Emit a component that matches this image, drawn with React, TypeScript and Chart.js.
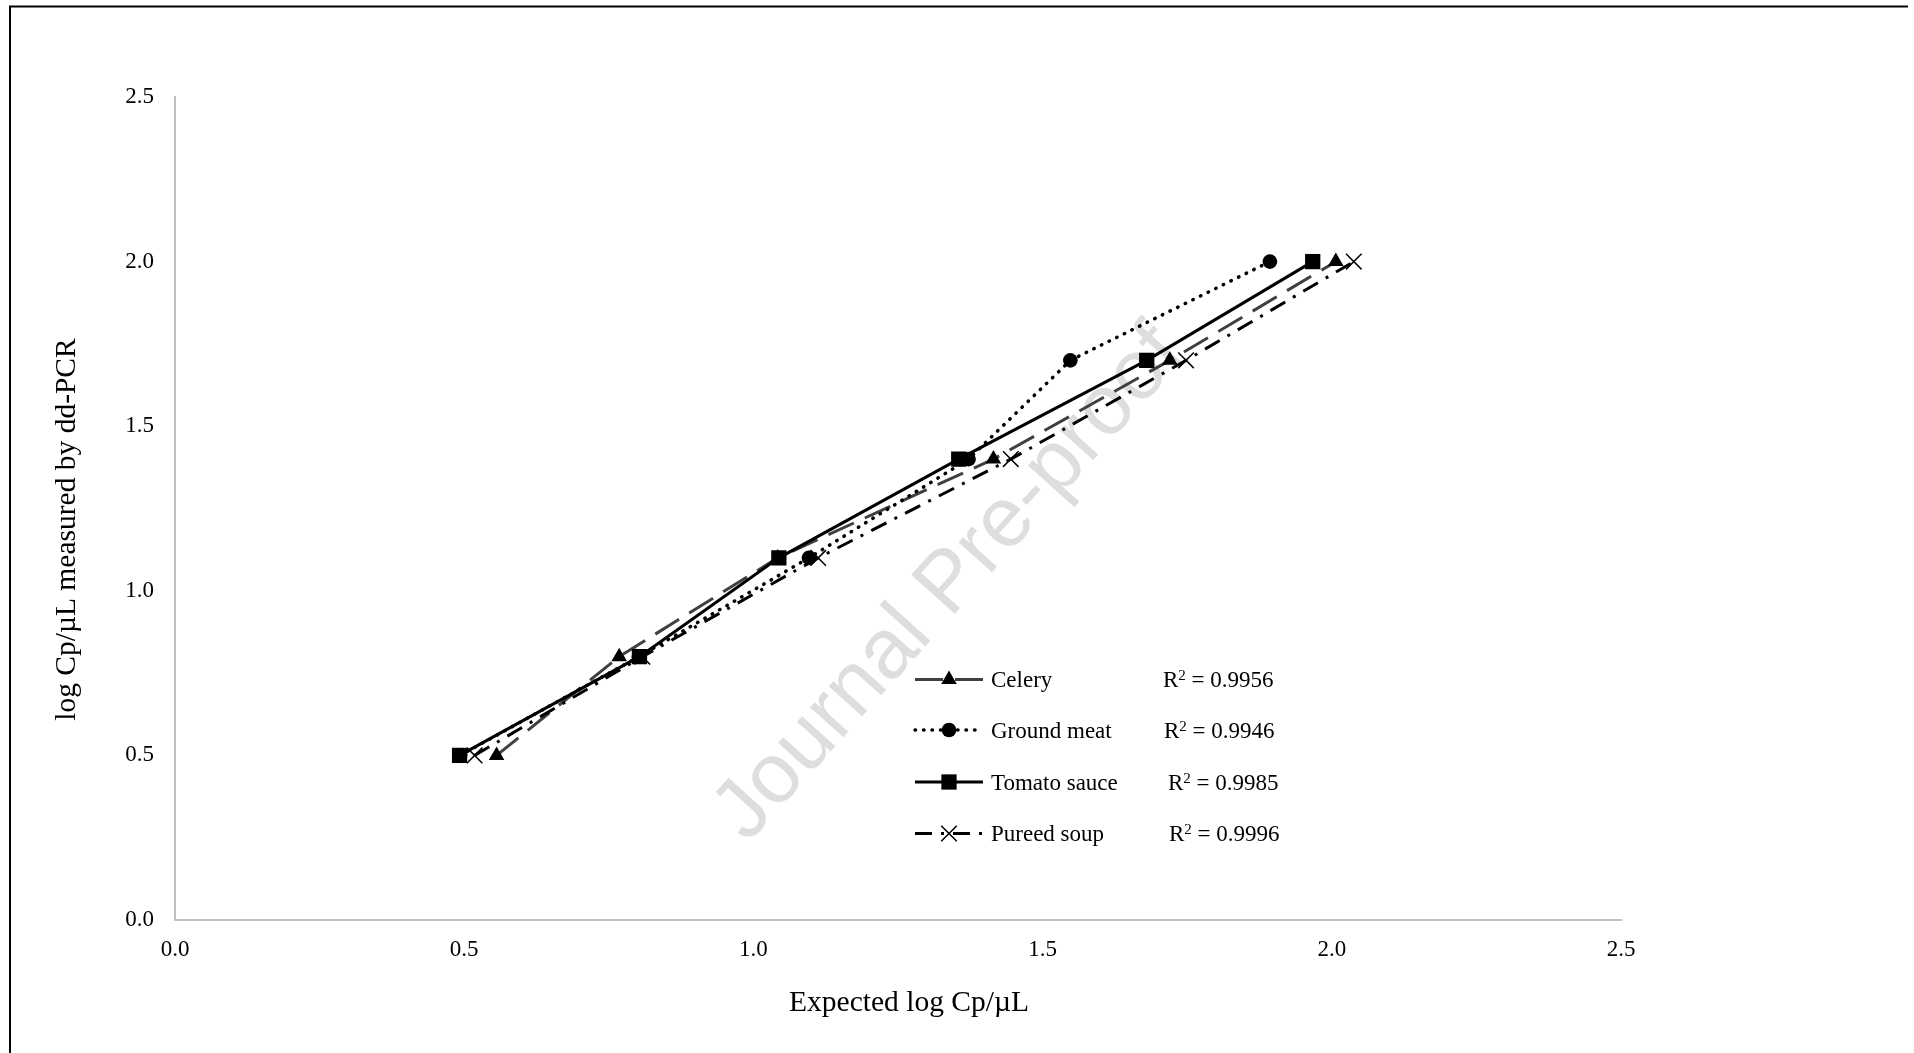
import React, { useEffect, useRef } from 'react';
import { Chart, registerables } from 'chart.js';

Chart.register(...registerables);

// ---- Data ----
const yLevels = [0.5, 0.8, 1.1, 1.4, 1.7, 2.0];
const celeryX = [0.556, 0.768, 1.042, 1.415, 1.72, 2.007];
const groundMeatX = [0.493, 0.802, 1.096, 1.372, 1.548, 1.893];
const tomatoSauceX = [0.492, 0.803, 1.044, 1.355, 1.68, 1.967];
const pureedSoupX = [0.518, 0.808, 1.112, 1.445, 1.748, 2.038];
const seriesNames = ['Celery', 'Ground meat', 'Tomato sauce', 'Pureed soup'];
const rSquaredValues = ['0.9956', '0.9946', '0.9985', '0.9996'];
const axisMin = 0;
const axisMax = 2.5;
const axisStep = 0.5;
const xAxisTitle = 'Expected log Cp/µL';
const yAxisTitle = 'log Cp/µL measured by dd-PCR';
const watermarkText = 'Journal Pre-proof';

const SERIF = "'Liberation Serif', 'Times New Roman', serif";
const SANS = "'Liberation Sans', Arial, sans-serif";

const toPoints = (xs: number[]) => xs.map((x, i) => ({ x, y: yLevels[i] }));

function drawMarker(ctx: CanvasRenderingContext2D, style: string, x: number, y: number, r: number, color: string, bw: number) {
  ctx.save();
  ctx.setLineDash([]);
  ctx.fillStyle = color;
  ctx.strokeStyle = color;
  ctx.lineWidth = bw;
  ctx.beginPath();
  if (style === 'triangle') {
    ctx.moveTo(x, y - r);
    ctx.lineTo(x + (r * Math.sqrt(3)) / 2, y + r / 2);
    ctx.lineTo(x - (r * Math.sqrt(3)) / 2, y + r / 2);
    ctx.closePath();
    ctx.fill();
  } else if (style === 'circle') {
    ctx.arc(x, y, r, 0, Math.PI * 2);
    ctx.fill();
  } else if (style === 'rect') {
    const s = r * Math.SQRT1_2;
    ctx.rect(x - s, y - s, 2 * s, 2 * s);
    ctx.fill();
  } else if (style === 'crossRot') {
    const s = r * Math.SQRT1_2;
    ctx.moveTo(x - s, y - s);
    ctx.lineTo(x + s, y + s);
    ctx.moveTo(x - s, y + s);
    ctx.lineTo(x + s, y - s);
    ctx.stroke();
  }
  ctx.restore();
}

const overlayPlugin = {
  id: 'overlayPlugin',
  beforeDatasetsDraw(chart: any) {
    const ctx: CanvasRenderingContext2D = chart.ctx;
    ctx.save();
    ctx.translate(950, 584);
    ctx.rotate((-48 * Math.PI) / 180);
    ctx.font = `85px ${SANS}`;
    ctx.fillStyle = '#dedede';
    ctx.textAlign = 'center';
    ctx.textBaseline = 'middle';
    ctx.fillText(watermarkText, 0, 0);
    ctx.restore();
  },
  afterDraw(chart: any) {
    const ctx: CanvasRenderingContext2D = chart.ctx;
    const area = chart.chartArea;
    // frame (left and top edges)
    ctx.save();
    ctx.strokeStyle = '#000';
    ctx.lineWidth = 2;
    ctx.beginPath();
    ctx.moveTo(10, 1053);
    ctx.lineTo(10, 6.5);
    ctx.lineTo(1908, 6.5);
    ctx.stroke();
    ctx.restore();

    // axis titles
    ctx.save();
    ctx.fillStyle = '#000';
    ctx.font = `29.5px ${SERIF}`;
    ctx.textAlign = 'center';
    ctx.textBaseline = 'middle';
    ctx.fillText(xAxisTitle, (area.left + area.right) / 2 + 11, 1003);
    ctx.translate(67, (area.top + area.bottom) / 2 + 21);
    ctx.rotate(-Math.PI / 2);
    ctx.fillText(yAxisTitle, 0, 0);
    ctx.restore();

    // legend
    const rows = [679.5, 730, 782, 833.5];
    const r2X = [1163, 1164, 1168, 1169];
    const x0 = 915;
    const x1 = 983;
    const mx = 949;
    const tx = 991;
    chart.data.datasets.forEach((ds: any, i: number) => {
      const y = rows[i];
      ctx.save();
      ctx.strokeStyle = ds.borderColor;
      ctx.lineWidth = ds.borderWidth;
      ctx.lineCap = ds.borderCapStyle || 'butt';
      ctx.setLineDash(ds.borderDash || []);
      ctx.beginPath();
      ctx.moveTo(x0, y);
      ctx.lineTo(x1, y);
      ctx.stroke();
      ctx.restore();
      drawMarker(ctx, ds.pointStyle, mx, y, ds.pointRadius, ds.pointBackgroundColor, ds.pointBorderWidth || 1.5);

      ctx.save();
      ctx.fillStyle = '#000';
      ctx.textAlign = 'left';
      ctx.textBaseline = 'alphabetic';
      ctx.font = `23px ${SERIF}`;
      ctx.fillText(ds.label, tx, y + 7.5);
      let rx = r2X[i];
      ctx.fillText('R', rx, y + 7.5);
      rx += ctx.measureText('R').width;
      ctx.font = `15px ${SERIF}`;
      ctx.fillText('2', rx, y + 0.5);
      rx += ctx.measureText('2').width;
      ctx.font = `23px ${SERIF}`;
      ctx.fillText(' = ' + rSquaredValues[i], rx, y + 7.5);
      ctx.restore();
    });
  },
};

export default function App() {
  const canvasRef = useRef<HTMLCanvasElement>(null);

  useEffect(() => {
    const canvas = canvasRef.current;
    if (!canvas) return;
    const tickFont = { family: SERIF, size: 23 };
    const chart = new Chart(canvas, {
      type: 'scatter',
      data: {
        datasets: [
          {
            label: seriesNames[0],
            data: toPoints(celeryX),
            showLine: true,
            borderColor: '#404040',
            borderWidth: 3,
            borderDash: [28, 12],
            pointStyle: 'triangle',
            pointRadius: 9,
            pointHoverRadius: 9,
            pointBackgroundColor: '#000',
            pointBorderColor: '#000',
            pointBorderWidth: 0,
            order: 4,
          },
          {
            label: seriesNames[1],
            data: toPoints(groundMeatX),
            showLine: true,
            borderColor: '#000',
            borderWidth: 3.5,
            borderDash: [0.5, 8],
            borderCapStyle: 'round',
            pointStyle: 'circle',
            pointRadius: 7.3,
            pointHoverRadius: 7.3,
            pointBackgroundColor: '#000',
            pointBorderColor: '#000',
            pointBorderWidth: 0,
            order: 3,
          },
          {
            label: seriesNames[2],
            data: toPoints(tomatoSauceX),
            showLine: true,
            borderColor: '#000',
            borderWidth: 3,
            pointStyle: 'rect',
            pointRadius: 10.8,
            pointHoverRadius: 10.8,
            pointBackgroundColor: '#000',
            pointBorderColor: '#000',
            pointBorderWidth: 0,
            order: 2,
          },
          {
            label: seriesNames[3],
            data: toPoints(pureedSoupX),
            showLine: true,
            borderColor: '#000',
            borderWidth: 3,
            borderDash: [17, 9, 3, 9],
            pointStyle: 'crossRot',
            pointRadius: 11,
            pointHoverRadius: 11,
            pointBackgroundColor: '#000',
            pointBorderColor: '#000',
            pointBorderWidth: 1.5,
            order: 1,
          },
        ] as any,
      },
      options: {
        responsive: false,
        animation: false,
        devicePixelRatio: 1,
        events: [],
        layout: { padding: { left: 0, top: 97, right: 293, bottom: 0 } },
        plugins: {
          legend: { display: false },
          tooltip: { enabled: false },
          title: { display: false },
        },
        scales: {
          x: {
            type: 'linear',
            min: axisMin,
            max: axisMax,
            grid: { display: false, drawTicks: false },
            border: { display: true, color: '#bfbfbf', width: 2 },
            ticks: {
              stepSize: axisStep,
              padding: 16,
              color: '#000',
              font: tickFont,
              callback: (v: any) => Number(v).toFixed(1),
            },
            afterFit: (s: any) => {
              s.height = 133;
              s.paddingLeft = 0;
              s.paddingRight = 0;
            },
          },
          y: {
            type: 'linear',
            min: axisMin,
            max: axisMax,
            grid: { display: false, drawTicks: false },
            border: { display: true, color: '#bfbfbf', width: 2 },
            ticks: {
              stepSize: axisStep,
              padding: 21,
              color: '#000',
              font: tickFont,
              callback: (v: any) => Number(v).toFixed(1),
            },
            afterFit: (s: any) => {
              s.width = 175;
              s.paddingTop = 0;
              s.paddingBottom = 0;
            },
          },
        },
      } as any,
      plugins: [overlayPlugin],
    });
    return () => chart.destroy();
  }, []);

  return (
    <div style={{ position: 'fixed', left: 0, top: 0, width: 1914, height: 1053, background: '#fff' }}>
      <canvas ref={canvasRef} width={1914} height={1053} style={{ display: 'block', width: 1914, height: 1053 }} />
    </div>
  );
}
